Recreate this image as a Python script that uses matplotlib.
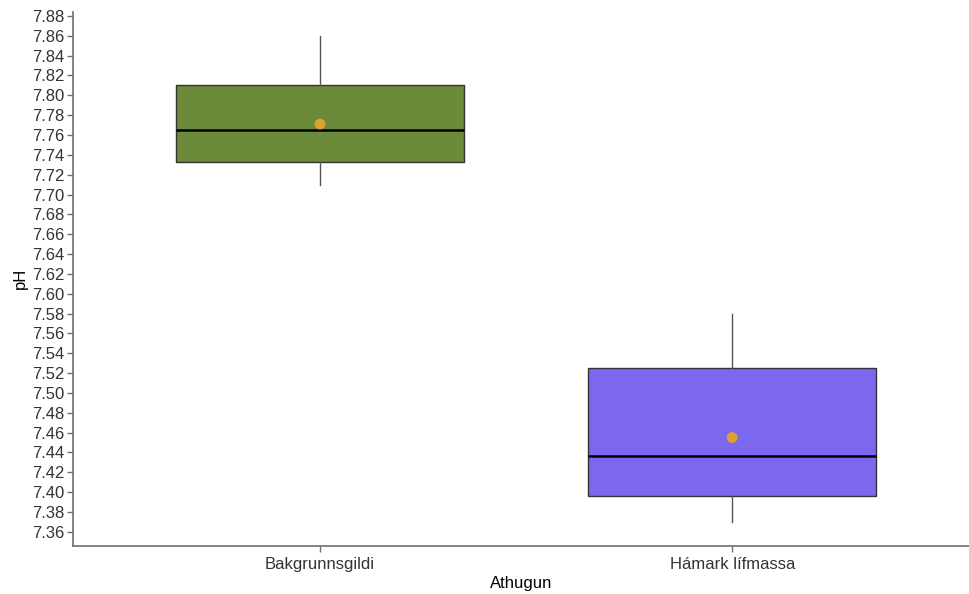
import matplotlib
matplotlib.use("Agg")
import matplotlib.pyplot as plt
import numpy as np

plt.rcParams['font.family'] = ['Liberation Sans', 'DejaVu Sans']

categories = ["Bakgrunnsgildi", "Hámark lífmassa"]
whisker_low = [7.71, 7.37]
q1 = [7.733, 7.396]
median = [7.765, 7.436]
q3 = [7.81, 7.525]
whisker_high = [7.86, 7.58]
means = [7.771, 7.455]
fill_colors = ["#6B8A3A", "#7B68EE"]
mean_color = "#E0A030"
yticks = np.round(np.arange(7.36, 7.881, 0.02), 2)

fig = plt.figure(figsize=(9.7, 5.94), dpi=100)
ax = fig.add_axes([0.075, 0.0813, 0.925, 0.8993])

stats = []
for i, c in enumerate(categories):
    stats.append(dict(label=c, whislo=whisker_low[i], q1=q1[i], med=median[i],
                      q3=q3[i], whishi=whisker_high[i], fliers=[]))
pos = np.arange(1, len(categories) + 1)
bp = ax.bxp(stats, positions=pos, widths=0.7, patch_artist=True, showcaps=False,
            showfliers=False,
            boxprops=dict(edgecolor="#333333", linewidth=1.0),
            medianprops=dict(color="black", linewidth=1.8),
            whiskerprops=dict(color="#555555", linewidth=1.0))
for patch, col in zip(bp['boxes'], fill_colors):
    patch.set_facecolor(col)

ax.scatter(pos, means, s=60, color=mean_color, zorder=5, edgecolors='none')

ax.set_xlim(0.4, 2.577)
ax.set_ylim(7.3459, 7.8845)
ax.set_yticks(yticks)
ax.set_yticklabels([f"{v:.2f}" for v in yticks])
ax.set_xticks(pos)
ax.set_xticklabels(categories)

for s in ['top', 'right']:
    ax.spines[s].set_visible(False)
for s in ['left', 'bottom']:
    ax.spines[s].set_color('#6E6E6E')
    ax.spines[s].set_linewidth(1.2)
ax.tick_params(axis='both', colors='#6E6E6E', labelcolor='#333333', labelsize=12,
               length=4, width=1.0, direction='out', pad=2)
ax.tick_params(axis='x', pad=4)

ax.set_xlabel("Athugun", fontsize=12, color='black', labelpad=3)
ax.set_ylabel("pH", fontsize=12, color='black', labelpad=3)

fig.savefig("out.png", dpi=100)
